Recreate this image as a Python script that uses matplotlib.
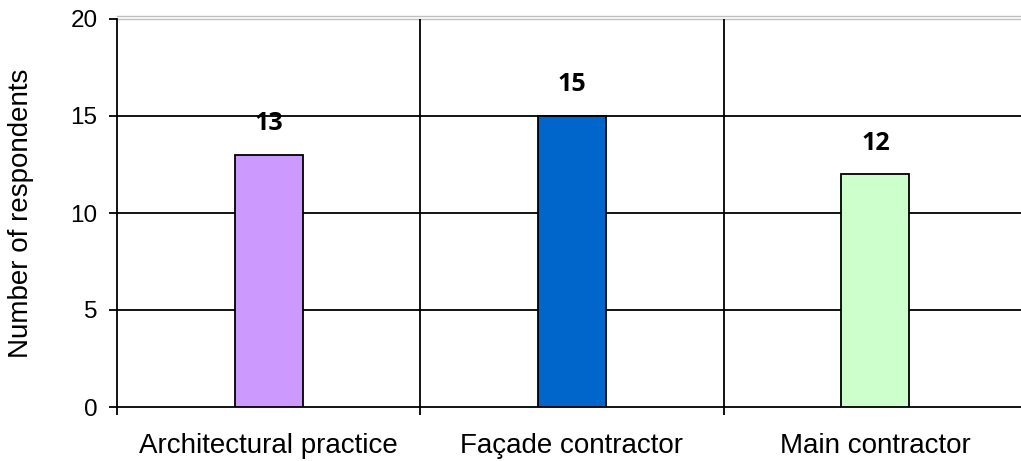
import matplotlib
matplotlib.use("Agg")
from matplotlib import pyplot as plt
from matplotlib import transforms

plt.rcParams['font.family'] = ['Liberation Sans', 'DejaVu Sans']

categories = ['Architectural practice', 'Façade contractor', 'Main contractor']
respondents = [13, 15, 12]
bar_colors = ['#CC99FF', '#0066CC', '#CCFFCC']

fig = plt.figure(figsize=(10.21, 4.61), dpi=100)
W, H = 1021, 461
# plot area extends slightly past the right edge like the original
ax = fig.add_axes([117 / W, (H - 407) / H, 910 / W, 388 / H])

x = list(range(len(categories)))
ax.bar(x, respondents, width=0.225, color=bar_colors, edgecolor='black',
       linewidth=1.3, zorder=3)

for xi, v in zip(x, respondents):
    ax.text(xi, v + 1.6, str(v), ha='center', va='center', fontsize=18,
            fontweight='bold', family=['Open Sans', 'DejaVu Sans'], zorder=4)

ax.set_xlim(-0.5, 2.5)
ax.set_ylim(0, 20)
ax.set_yticks([0, 5, 10, 15, 20])
ax.set_xticks(x)
ax.set_xticklabels(categories, fontsize=20)
ax.set_xticks([-0.5, 0.5, 1.5, 2.5], minor=True)
ax.tick_params(axis='x', which='major', length=0, pad=19)
ax.tick_params(axis='x', which='minor', length=6, width=1.3, direction='out')
ax.tick_params(axis='y', length=6, width=1.3, labelsize=17.5, pad=8)

# horizontal gridlines (the 20 line is drawn as a light double line)
for yv in [5, 10, 15]:
    ax.axhline(yv, color='black', linewidth=1.3, zorder=1)
ax.axhline(20, color='#c0c0c0', linewidth=1, zorder=1, clip_on=False)
shift = transforms.offset_copy(ax.transData, fig=fig, x=0, y=2.5, units='dots')
ax.plot([-0.5, 2.5], [20, 20], color='#c0c0c0', linewidth=1,
        transform=shift, clip_on=False)
for xv in [0.5, 1.5]:
    ax.axvline(xv, color='black', linewidth=1.3, zorder=1)

for s in ['top', 'right']:
    ax.spines[s].set_visible(False)
for s in ['left', 'bottom']:
    ax.spines[s].set_linewidth(1.3)

ax.set_ylabel('Number of respondents', fontsize=20, labelpad=26)

fig.savefig('out.png', dpi=100)
